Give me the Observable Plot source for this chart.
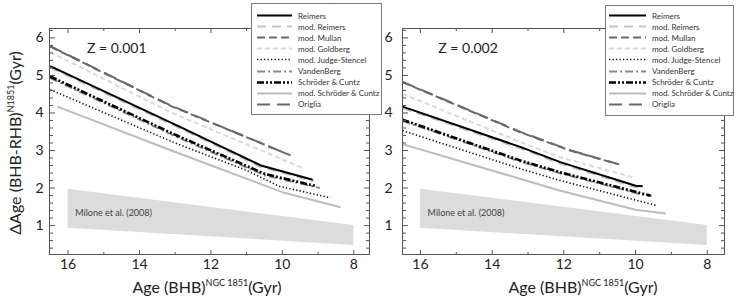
<!DOCTYPE html>
<html>
<head>
<meta charset="utf-8">
<script src="https://cdn.jsdelivr.net/npm/d3@7"></script>
<script src="https://cdn.jsdelivr.net/npm/@observablehq/plot@0.6"></script>
<style>
  body { margin: 0; background: #fff; font-family: Lato, "Open Sans", sans-serif; color: #222; }
  #wrap { position: relative; width: 737px; height: 305px; overflow: hidden; }
  .panel { position: absolute; top: 0; }
  .legend { position: absolute; background: #fff; border: 1px solid #7a7a7a; box-sizing: border-box; }
  .legend .row { position: absolute; left: 0; height: 11px; display: flex; align-items: center; }
  .legend .row span { font-size: 8px; color: #333; white-space: nowrap; margin-left: 6px; }
  .axlabel { position: absolute; white-space: nowrap; font-size: 16px; color: #222; }
  .axlabel sup { font-size: 9px; vertical-align: 7px; line-height: 0; }
</style>
</head>
<body>
<div id="wrap">
  <div id="left" class="panel" style="left:0"></div>
  <div id="right" class="panel" style="left:385px"></div>
</div>
<script>
// ---- series definitions ----
const seriesNames = ["Reimers", "mod. Reimers", "mod. Mullan", "mod. Goldberg", "mod. Judge-Stencel",
  "VandenBerg", "Schröder & Cuntz", "mod. Schröder & Cuntz", "Origlia"];
const seriesColors = ["#000000", "#c4c4c4", "#6a6a6a", "#dadada", "#111111", "#8a8a8a", "#000000", "#bcbcbc", "#6a6a6a"];
const seriesDash = ["none", "9,6", "8,4", "5,3", "1.3,2.2", "8,3,2,3", "7,2,2,2,2,2", "none", "13,7"];
const seriesWidths = [2, 2, 2, 2, 1.6, 2, 2.6, 2, 2];
const drawOrder = [3, 1, 8, 2, 5, 0, 7, 4, 6];

// ---- Z = 0.001 panel: [Age(BHB) NGC1851, ΔAge] ----
const reimers001 = [[16.5, 5.25], [13, 3.69], [10.6, 2.6], [9.15, 2.22]];
const modReimers001 = [[16.5, 5.21], [13, 3.65], [10.6, 2.56], [9.12, 2.18]];
const modMullan001 = [[16.5, 5.77], [13.13, 4.19], [9.8, 2.88]];
const goldberg001 = [[16.5, 5.62], [13.13, 4.02], [9.45, 2.54]];
const judge001 = [[16.5, 4.62], [13, 3.2], [11, 2.47], [10.1, 2.05], [8.65, 1.74]];
const vandenberg001 = [[16.5, 4.93], [13, 3.38], [10.5, 2.34], [8.95, 2.0]];
const sc001 = [[16.5, 4.97], [13, 3.42], [10.5, 2.38], [9.05, 2.05]];
const modSc001 = [[16.3, 4.17], [13, 2.96], [10, 1.89], [8.37, 1.49]];
const origlia001 = [[16.5, 5.78], [13.13, 4.2], [9.77, 2.87]];

// ---- Z = 0.002 panel ----
const reimers002 = [[16.5, 4.17], [13.2, 3.09], [12.1, 2.69], [10, 2.06], [9.8, 2.05]];
const modReimers002 = [[16.5, 4.13], [13.2, 3.05], [12.1, 2.65], [10, 2.02], [9.75, 2.0]];
const modMullan002 = [[16.5, 4.82], [13.2, 3.48], [11.8, 2.99], [10.5, 2.64]];
const goldberg002 = [[16.5, 4.51], [13.2, 3.22], [12.1, 2.82], [10.02, 2.27]];
const judge002 = [[16.5, 3.53], [13.2, 2.51], [12.1, 2.2], [10, 1.68], [9.39, 1.53]];
const vandenberg002 = [[16.5, 3.79], [13.2, 2.7], [12.1, 2.39], [9.8, 1.82], [9.55, 1.78]];
const sc002 = [[16.5, 3.82], [13.2, 2.73], [12.1, 2.42], [9.8, 1.85], [9.58, 1.8]];
const modSc002 = [[16.5, 3.17], [13.2, 2.24], [12.1, 1.93], [10, 1.42], [9.16, 1.32]];
const origlia002 = [[16.5, 4.83], [13.2, 3.49], [11.8, 3.0], [10.46, 2.63]];

// Milone et al. (2008) band
const miloneX = [16, 8];
const miloneLow = [0.93, 0.47];
const miloneHigh = [1.97, 1.0];
const miloneText = "Milone et al. (2008)";
const miloneTextPos = [15.8, 1.32];

// panel labels
const panelLabels = ["Z = 0.001", "Z = 0.002"];
const panelLabelPos = [[15.47, 5.72], [15.5, 5.72]];

// ticks
const xTickLabels = [16, 14, 12, 10, 8];
const xMinorTicks = [15, 13, 11, 9];
const yTickLabels = [1, 2, 3, 4, 5, 6];
const yMinorTicks = [0.4, 0.6, 0.8, 1.2, 1.4, 1.6, 1.8, 2.2, 2.4, 2.6, 2.8, 3.2, 3.4, 3.6, 3.8,
  4.2, 4.4, 4.6, 4.8, 5.2, 5.4, 5.6, 5.8, 6.2];

const xDomainLeft = [16.52, 7.56];
const xDomainRight = [16.5, 7.52];
const yDomain = [0.23, 6.25];

const lines001 = [reimers001, modReimers001, modMullan001, goldberg001, judge001, vandenberg001, sc001, modSc001, origlia001];
const lines002 = [reimers002, modReimers002, modMullan002, goldberg002, judge002, vandenberg002, sc002, modSc002, origlia002];

function inwardTicks() {
  const c = "#555";
  return [
    Plot.axisX(xTickLabels, {anchor: "top", frameAnchor: "bottom", tickSize: 5, fill: "none", tickFormat: () => "", label: null, stroke: c}),
    Plot.axisX(xMinorTicks, {anchor: "top", frameAnchor: "bottom", tickSize: 3, fill: "none", tickFormat: () => "", label: null, stroke: c}),
    Plot.axisX(xTickLabels, {anchor: "bottom", frameAnchor: "top", tickSize: 5, fill: "none", tickFormat: () => "", label: null, stroke: c}),
    Plot.axisX(xMinorTicks, {anchor: "bottom", frameAnchor: "top", tickSize: 3, fill: "none", tickFormat: () => "", label: null, stroke: c}),
    Plot.axisY(yTickLabels, {anchor: "right", frameAnchor: "left", tickSize: 5, fill: "none", tickFormat: () => "", label: null, stroke: c}),
    Plot.axisY(yMinorTicks, {anchor: "right", frameAnchor: "left", tickSize: 3, fill: "none", tickFormat: () => "", label: null, stroke: c}),
    Plot.axisY(yTickLabels, {anchor: "left", frameAnchor: "right", tickSize: 5, fill: "none", tickFormat: () => "", label: null, stroke: c}),
    Plot.axisY(yMinorTicks, {anchor: "left", frameAnchor: "right", tickSize: 3, fill: "none", tickFormat: () => "", label: null, stroke: c})
  ];
}

function panel(lines, label, labelPos, xDomain, width, mLeft, mRight, yPad) {
  const band = miloneX.map((x, i) => ({x, lo: miloneLow[i], hi: miloneHigh[i]}));
  const marks = [
    Plot.areaY(band, {x: "x", y1: "lo", y2: "hi", fill: "#dcdcdc"}),
    Plot.text([miloneText], {x: miloneTextPos[0], y: miloneTextPos[1], text: d => d, textAnchor: "start", fontSize: 9, fill: "#444"}),
    Plot.text([label], {x: labelPos[0], y: labelPos[1], text: d => d, textAnchor: "start", fontSize: 14, fill: "#222"})
  ];
  for (const i of drawOrder) {
    marks.push(Plot.line(lines[i], {
      x: d => d[0], y: d => d[1],
      stroke: seriesColors[i], strokeWidth: seriesWidths[i],
      strokeDasharray: seriesDash[i] === "none" ? null : seriesDash[i],
      strokeLinecap: "butt", strokeLinejoin: "round"
    }));
  }
  marks.push(Plot.frame({stroke: "#555", strokeWidth: 1}));
  marks.push(...inwardTicks());
  marks.push(Plot.axisX(xTickLabels, {anchor: "bottom", tickSize: 0, tickPadding: 5, fontSize: 14, label: null, fill: "#222"}));
  marks.push(Plot.axisY(yTickLabels, {anchor: "left", tickSize: 0, tickPadding: yPad, fontSize: 14, label: null, fill: "#222"}));
  return Plot.plot({
    width, height: 305,
    marginTop: 28, marginBottom: 51, marginLeft: mLeft, marginRight: mRight,
    x: {domain: xDomain},
    y: {domain: yDomain},
    style: {fontFamily: "Lato, 'Open Sans', sans-serif", fontSize: "14px", background: "transparent", overflow: "visible", color: "#222"},
    marks
  });
}

document.getElementById("left").appendChild(panel(lines001, panelLabels[0], panelLabelPos[0], xDomainLeft, 385, 49, 16, 6));
document.getElementById("right").appendChild(panel(lines002, panelLabels[1], panelLabelPos[1], xDomainRight, 352, 17, 13, 10));

// axis titles
const wrap = document.getElementById("wrap");
function addLabel(html, css) {
  const d = document.createElement("div");
  d.className = "axlabel";
  d.innerHTML = html;
  d.style.cssText = css;
  wrap.appendChild(d);
}
const yTitle = "ΔAge (BHB-RHB)<sup>N1851</sup>(Gyr)";
const xTitle = "Age (BHB)<sup>NGC 1851</sup>(Gyr)";
addLabel(yTitle, "left:14px;top:143px;transform:translate(-50%,-50%) rotate(-90deg);");
addLabel(xTitle, "left:207px;top:286px;transform:translate(-50%,-50%);");
addLabel(xTitle, "left:583px;top:286px;transform:translate(-50%,-50%);");

// legends
function legend(left, top, width, height, rowTop, rowStep, sampleLeft, sampleLen) {
  const box = document.createElement("div");
  box.className = "legend";
  box.style.cssText = `left:${left}px;top:${top}px;width:${width}px;height:${height}px;`;
  seriesNames.forEach((name, i) => {
    const row = document.createElement("div");
    row.className = "row";
    row.style.top = (rowTop + i * rowStep - 5.5) + "px";
    row.style.left = sampleLeft + "px";
    const svg = d3.create("svg").attr("width", sampleLen).attr("height", 11);
    svg.append("line").attr("x1", 0).attr("x2", sampleLen).attr("y1", 5.5).attr("y2", 5.5)
      .attr("stroke", seriesColors[i]).attr("stroke-width", seriesWidths[i])
      .attr("stroke-dasharray", seriesDash[i] === "none" ? null : seriesDash[i]);
    row.appendChild(svg.node());
    const s = document.createElement("span");
    s.textContent = name;
    row.appendChild(s);
    box.appendChild(row);
  });
  wrap.appendChild(box);
}
legend(251, 3, 131, 112, 11.5, 11.1, 5, 35);
legend(605, 5, 129, 111, 9.5, 11.1, 3, 37);
</script>
</body>
</html>
